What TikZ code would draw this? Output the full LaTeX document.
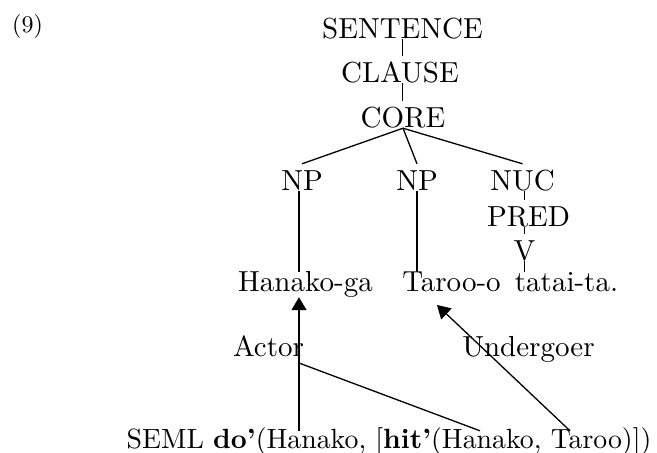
\documentclass[tikz,border=0pt]{standalone}
\usepackage{fontspec}
\setmainfont{lmroman10-regular.otf}[BoldFont=lmroman10-bold.otf, Ligatures=TeX]
\usetikzlibrary{arrows.meta,positioning}

\tikzset{
    cat/.style={inner sep=0pt, text height=26pt, text depth=1pt, anchor=base, font=\fontsize{29}{35}\selectfont},
    word/.style={inner sep=0pt, text height=19pt, text depth=6pt, anchor=base, font=\fontsize{29}{35}\selectfont},
    branch/.style={line width=1.3pt},
    link/.style={line width=1.3pt, arrows = {-Triangle[length=13pt, width=15pt]}}
}

\begin{document}
\begin{tikzpicture}[x=1pt, y=-1pt]
        \useasboundingbox (0,0) rectangle (657,453);
        \node[inner sep=0pt, anchor=base, font=\fontsize{24}{29}\selectfont] (exno) at (27.5,32) {(9)};

        \node[cat] (sentence) at (402.5,38) {SENTENCE};
        \node[cat] (clause) at (400,82) {CLAUSE};
        \node[cat] (core) at (403,127) {CORE};
        \node[cat] (np1) at (302,190) {NP};
        \node[cat] (np2) at (417,190) {NP};
        \node[cat] (nuc) at (522.5,190) {NUC};
        \node[cat] (pred) at (528.5,226) {PRED};
        \node[cat] (v) at (524.5,260) {V};

        \node[word] (hanako) at (305.5,291) {Hanako-ga};
        \node[word] (taroo) at (451.5,291) {Taroo-o};
        \node[word] (tatai) at (566.5,291) {tatai-ta.};

        \node[word] (actor) at (268.5,356) {Actor};
        \node[word] (undergoer) at (528.5,356) {Undergoer};

        \node[inner sep=0pt, anchor=base, text height=17pt, font=\fontsize{27.8}{33}\selectfont] (seml) at (389,448)
            {SEML \textbf{do’}(Hanako, [\textbf{hit’}(Hanako, Taroo)])};

        \coordinate (split) at (299,363);
        \coordinate (hitarg) at (480,0);
        \coordinate (undarg) at (570,0);
        \coordinate (utip) at (437,305);

        \draw[branch] (sentence.south) -- (sentence.south |- clause.north);
        \draw[branch] (clause.south -| sentence.south) -- (core.north -| sentence.south);
        \draw[branch] (np1.north) -- (core.south) -- (np2.north);
        \draw[branch] (core.south) -- (nuc.north);

        \draw[branch] ([xshift=-3pt]np1.south) -- ([xshift=-3pt]np1.south |- hanako.north);
        \draw[branch] (np2.south) -- (np2.south |- taroo.north);
        \draw[branch] (nuc.south -| v) -- (pred.north -| v);
        \draw[branch] (pred.south -| v) -- (v.north);
        \draw[branch] (v.south) -- (v.south |- tatai.north);

        \draw[link] (seml.north -| split) -- (hanako.south -| split);
        \draw[branch] (split) -- (seml.north -| hitarg);
        \draw[link] (seml.north -| undarg) -- (utip);
\end{tikzpicture}
\end{document}
